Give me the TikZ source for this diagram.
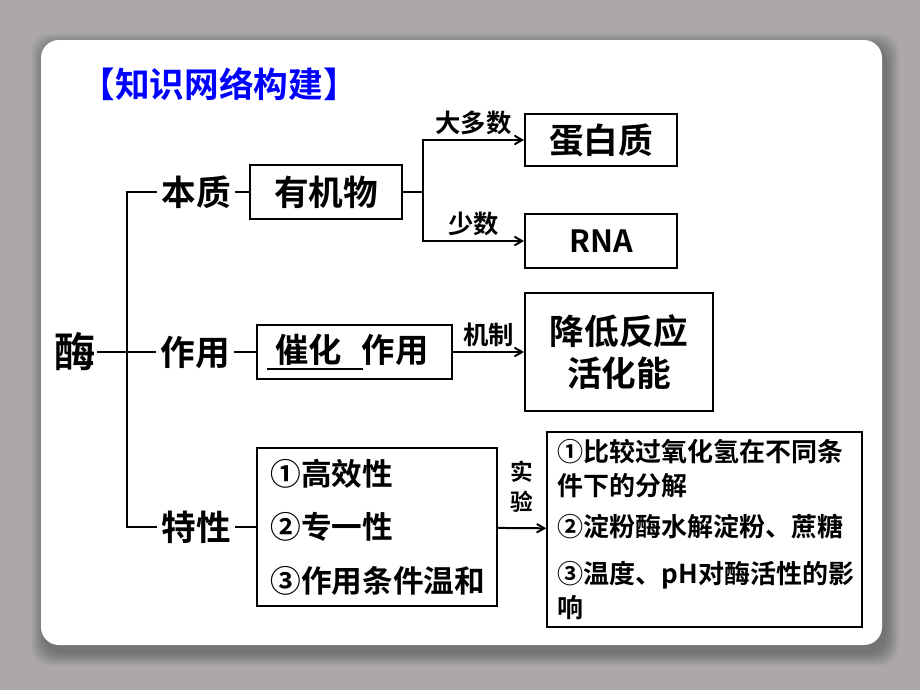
\documentclass[tikz,border=0pt]{standalone}
\usepackage{fontspec}
\setmainfont{Noto Sans CJK SC}[BoldFont={Noto Sans CJK SC Bold}]
\usetikzlibrary{arrows,calc}
\definecolor{slidebg}{RGB}{172,168,170}
\definecolor{titleblue}{RGB}{0,0,255}
\newcommand{\bfsize}[2]{\fontsize{#1}{#2}\bfseries}

\begin{document}
\begin{tikzpicture}[x=0.75pt,y=-0.75pt,>=angle 60,
      box/.style={draw,line width=1.5pt,fill=white},
      word/.style={inner sep=3pt,font=\bfsize{26}{30}},
      link/.style={line width=1.5pt},
      small/.style={font=\bfsize{19}{22}}]
      \useasboundingbox (0,0) rectangle (920,690);
      \fill[slidebg] (0,0) rectangle (920,690);
      \foreach \d in {1,...,14}
        \fill[black,opacity=0.022,rounded corners=14pt]
          (41-\d+4,40-\d+7) rectangle (882+\d+3,645+\d+7);
      \fill[white,rounded corners=13.5pt] (41,40) rectangle (882,645);

      \node[font=\bfsize{26}{30},text=titleblue] (title) at (219,84) {【知识网络构建】};
      \node[font=\bfsize{31}{36},inner sep=1pt] (enz) at (75,352) {酶};

      \node[word] (benzhi) at (196,192) {本质};
      \node[word] (zuoyong) at (195,352) {作用};
      \node[word] (texing) at (196,527) {特性};

      \node[box,font=\bfsize{26}{30},minimum width=114pt,minimum height=41pt]
        (youji) at (326,192) {有机物};
      \node[box,font=\bfsize{26}{30},minimum width=114pt,minimum height=39pt]
        (protein) at (601,140) {蛋白质};
      \node[box,font=\bfsize{23}{28},minimum width=114pt,minimum height=40pt]
        (rna) at (601,241) {RNA};

      \node[box,font=\bfsize{25}{30},text width=131pt,inner xsep=7.5pt,
        minimum height=40pt,align=left] (cuihua) at (354.5,352)
        {\makebox[0pt][l]{\rule[-5.5pt]{72pt}{1.5pt}}\hspace{6pt}催化\hspace{15pt}作用};
      \node[box,font=\bfsize{26}{31},minimum width=141pt,minimum height=88pt,
        align=center] (jiangdi) at (619,352) {降低反应\\活化能};

      \node[box,font=\bfsize{23}{40},text width=160pt,inner xsep=10pt,
        minimum height=118pt,align=left] (features) at (377,527)
        {①高效性\\②专一性\\③作用条件温和};
      \node[box,font=\bfsize{19.5}{25.5},text width=220pt,inner xsep=8pt,
        minimum height=146pt,align=left] (expbox) at (704.5,529.5)
        {①比较过氧化氢在不同条\\件下的分解\\[5pt]②淀粉酶水解淀粉、蔗糖\\[9.5pt]③温度、pH对酶活性的影\\响};

      \coordinate (trunk) at (127,352);
      \coordinate (split) at (423,192);

      \draw[link] (benzhi) -| (trunk) |- (texing);
      \draw[link] (enz) -- (zuoyong);
      \draw[link] (benzhi) -- (youji);
      \draw[link] (youji) -- (split);
      \draw[link,->] (split) |- node[pos=0.75,above,small] {大多数} (protein);
      \draw[link,->] (split) |- node[pos=0.75,above,small] {少数} (rna);
      \draw[link] (zuoyong) -- (cuihua);
      \draw[link,->] (cuihua) -- node[above,small] {机制} (jiangdi);
      \draw[link] (texing) -- (features);
      \draw[link,->] (features) -- node[above=8pt,align=center,font=\bfsize{17}{22.5}]
        {实\\验} (expbox);
\end{tikzpicture}
\end{document}
